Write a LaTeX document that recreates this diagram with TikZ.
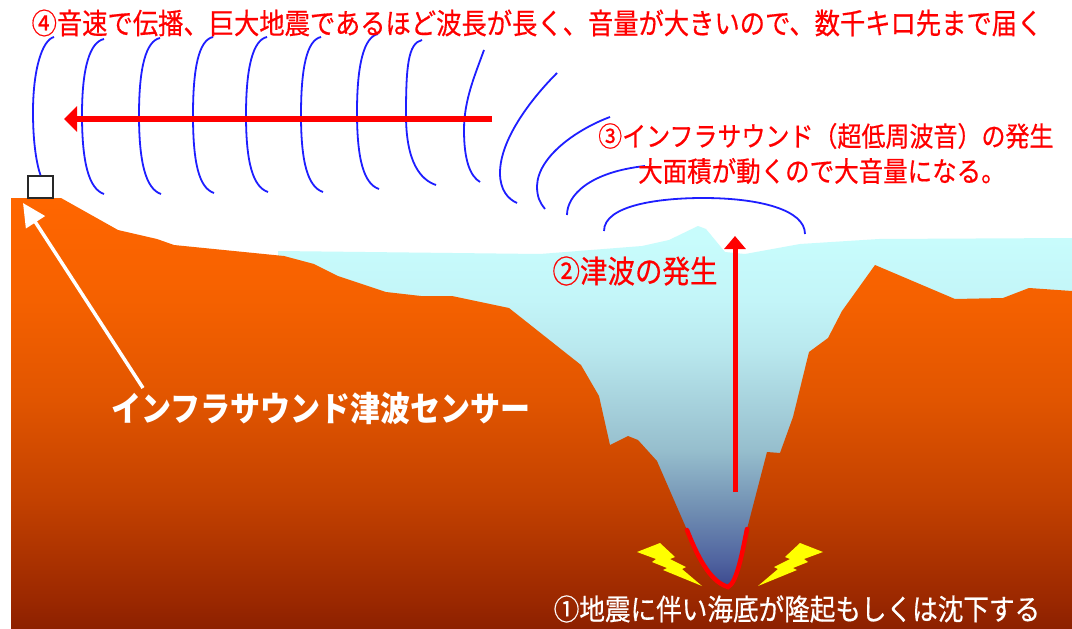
\documentclass[tikz,border=0pt]{standalone}
\usepackage{fontspec}
\newfontfamily\jp{Noto Sans CJK JP}[FakeBold=0.5]
\newfontfamily\jpbold{Noto Sans CJK JP}
\usetikzlibrary{arrows.meta}

% text set slightly taller than wide
\newcommand\tallline[1]{\scalebox{1}[1.14]{#1}}

% colours
\definecolor{waveblue}{RGB}{30,30,255}
\definecolor{sigred}{RGB}{255,0,0}
\definecolor{boltyellow}{RGB}{255,255,0}
\definecolor{boxgray}{RGB}{40,40,40}
% ground, from deep to surface
\definecolor{gA}{RGB}{140,32,0}
\definecolor{gB}{RGB}{155,40,0}
\definecolor{gC}{RGB}{195,65,0}
\definecolor{gD}{RGB}{225,85,0}
\definecolor{gE}{RGB}{245,97,0}
\definecolor{gF}{RGB}{255,102,0}
% sea water, from trench floor to surface
\definecolor{wA}{RGB}{58,70,140}
\definecolor{wB}{RGB}{80,100,160}
\definecolor{wC}{RGB}{112,142,178}
\definecolor{wD}{RGB}{150,190,205}
\definecolor{wE}{RGB}{185,232,238}
\definecolor{wF}{RGB}{195,245,248}
\definecolor{wG}{RGB}{200,252,252}

\pgfdeclareverticalshading{groundshade}{100bp}{%
  color(0bp)=(gA); color(25bp)=(gA); color(28.4bp)=(gB); color(40bp)=(gC);
  color(51.6bp)=(gD); color(63.2bp)=(gE); color(75bp)=(gF); color(100bp)=(gF)}
\pgfdeclareverticalshading{watershade}{100bp}{%
  color(0bp)=(wA); color(25bp)=(wA); color(29.1bp)=(wB); color(36bp)=(wC);
  color(44.2bp)=(wD); color(58bp)=(wE); color(64.8bp)=(wF); color(73bp)=(wG);
  color(100bp)=(wG)}

\begin{document}
\begin{tikzpicture}[x=1pt,y=-1pt,
  wave/.style={draw=waveblue, line width=1.8pt},
  sigarrow/.style={draw=sigred, line width=5.5pt, -{Triangle[length=13pt,width=25pt]}},
  upsig/.style={draw=sigred, line width=5pt, -{Triangle[length=13pt,width=21pt]}},
  pointer/.style={draw=white, line width=3.5pt, -{Triangle[length=23pt,width=22pt]}},
  bolt/.style={fill=boltyellow},
  redtext/.style={text=sigred, inner sep=0pt, font=\jp\fontsize{25.3}{30}\selectfont},
  whitetext/.style={text=white, inner sep=0pt, font=\jp\fontsize{25.6}{30}\selectfont},
  sensorbox/.style={draw=boxgray, line width=1.6pt, fill=white, minimum width=25pt, minimum height=22pt, inner sep=0pt}
]
\useasboundingbox (0,0) rectangle (1072,629);
\fill[white] (0,0) rectangle (1072,629);

% sea water
\shade[shading=watershade]
  (278,251) -- (540,254) -- (642,246) -- (669,240) -- (698,226) -- (706,229)
  -- (725,252) -- (745,254) -- (800,244) -- (879,239) -- (1072,238)
  -- (1072,590) -- (278,590) -- cycle;

% ground with the trench
\shade[shading=groundshade]
  (11,629) -- (11,198) -- (61,198) -- (118,230) -- (157,239) -- (174,245)
  -- (284,256) -- (314,264) -- (338,276) -- (386,292) -- (421,296) -- (452,296)
  -- (509,308) -- (581,365) -- (599,396) -- (610,445) -- (628,436) -- (638,440)
  -- (657,461) -- (687,530)
  .. controls (700,563) and (712,582) .. (728,587)
  .. controls (736,583) and (741,560) .. (747,529)
  -- (767,452) -- (780,453) -- (793,417) -- (809,352) -- (828,338) -- (842,311)
  -- (875,265) -- (955,299) -- (1003,298) -- (1029,288) -- (1072,291)
  -- (1072,629) -- cycle;

% uplifted sea floor
\draw[sigred, line width=4.5pt, line cap=round]
  (687,530) .. controls (700,563) and (712,582) .. (728,587)
  .. controls (736,583) and (741,560) .. (747,529);

% lightning bolts either side of the fault
\fill[bolt] (637,552) -- (660,543) -- (675,557) -- (670,559) -- (686,567) -- (682,569)
  -- (702,586) -- (663,570) -- (667,568) -- (652,562) -- (656,559) -- cycle;
\fill[bolt] (823,552) -- (800,543) -- (785,557) -- (790,559) -- (774,567) -- (778,569)
  -- (758,586) -- (797,570) -- (793,568) -- (808,562) -- (804,559) -- cycle;

% sensor on the coast
\node[sensorbox] (sensor) at (40.5,187) {};

% infrasound wave fronts
\draw[wave] (54,37) .. controls (42,40) and (33,70) .. (33,112)
  .. controls (33,145) and (37,165) .. (sensor.north);
\foreach \xt/\yt/\xl/\yl/\xb/\yb in {
  104/39/82/115/104/194, 160/38/139/115/161/194, 213/37/193/115/214/193,
  267/37/246/115/268/192, 321/37/301/115/323/192, 378/34/357/112/379/189,
  422/40/406/115/436/185} {
  \draw[wave] (\xt,\yt) .. controls (\xt-14,\yt+3) and (\xl,\yl-48) .. (\xl,\yl)
    .. controls (\xl,\yl+48) and (\xb-15,\yb-5) .. (\xb,\yb);
}
\draw[wave] (484,50) .. controls (475,75) and (464,100) .. (464,130)
  .. controls (464,160) and (470,176) .. (480,182);
\draw[wave] (557,73) .. controls (530,100) and (500,140) .. (500,173)
  .. controls (500,190) and (508,199) .. (517,203);
\draw[wave] (610,117) .. controls (580,128) and (538,155) .. (537,186)
  .. controls (537,197) and (540,203) .. (545,209);
\draw[wave] (567,215) .. controls (567,195) and (590,172) .. (645,166);
\draw[wave] (604,231) .. controls (604,205) and (660,198) .. (703,198)
  .. controls (760,198) and (805,210) .. (805,234);

% propagation and tsunami arrows
\coordinate (propfrom) at (492,119);
\coordinate (propto) at (64,119);
\draw[sigarrow] (propfrom) -- (propto);
\coordinate (tsufrom) at (735,492);
\coordinate (tsuto) at (735,236);
\draw[upsig] (tsufrom) -- (tsuto);

% labels
\node[redtext] (note4) at (537,23) {\tallline{④音速で伝播、巨大地震であるほど波長が長く、音量が大きいので、数千キロ先まで届く}};
\node[redtext, anchor=west, font=\jp\fontsize{24}{28}\selectfont] (note3a) at (598,136) {\tallline{③インフラサウンド（超低周波音）の発生}};
\node[redtext, anchor=west, font=\jp\fontsize{24.5}{28}\selectfont] (note3b) at (638,171) {\tallline{大面積が動くので大音量になる。}};
\node[redtext, font=\jp\fontsize{27.5}{30}\selectfont] (note2) at (635,271) {\tallline{②津波の発生}};
\node[whitetext, font=\jpbold\bfseries\fontsize{30}{34}\selectfont] (sensorlabel) at (321,409) {\tallline{インフラサウンド津波センサー}};
\node[whitetext] (note1) at (797,609) {\tallline{①地震に伴い海底が隆起もしくは沈下する}};

% pointer from the sensor label to the sensor
\coordinate (pointfrom) at (143,388);
\coordinate (pointto) at (23,203);
\draw[pointer] (pointfrom) -- (pointto);
\end{tikzpicture}
\end{document}
